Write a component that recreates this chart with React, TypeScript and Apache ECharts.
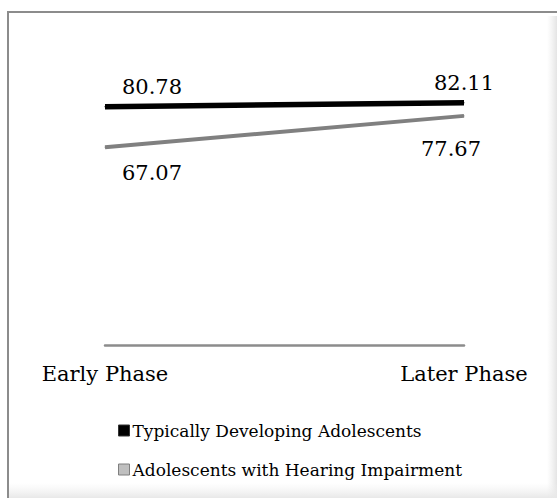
import React, { useEffect, useRef } from "react";
import * as echarts from "echarts";

const categories = ["Early Phase", "Later Phase"];
const seriesNames = ["Typically Developing Adolescents", "Adolescents with Hearing Impairment"];
const typicalValues = [80.78, 82.11];
const hearingValues = [67.07, 77.67];

const FONT = "DejaVu Serif";

export default function App() {
  const ref = useRef<HTMLDivElement>(null);
  useEffect(() => {
    if (!ref.current) return;
    const chart = echarts.init(ref.current, undefined, { renderer: "svg" });
    const lbl = (position: string, offset: number[]) => ({
      show: true,
      position,
      offset,
      distance: 5,
      fontSize: 21,
      fontFamily: FONT,
      color: "#000",
    });
    chart.setOption({
      animation: false,
      backgroundColor: "#fff",
      textStyle: { fontFamily: FONT },
      graphic: [
        {
          type: "rect",
          z: -10,
          shape: { x: 547, y: 16, width: 10, height: 482 },
          style: {
            fill: new echarts.graphic.LinearGradient(0, 0, 1, 0, [
              { offset: 0, color: "rgba(235,235,235,0)" },
              { offset: 1, color: "rgba(228,228,228,1)" },
            ]),
          },
        },
        {
          type: "rect",
          z: -10,
          shape: { x: 9, y: 483, width: 548, height: 15 },
          style: {
            fill: new echarts.graphic.LinearGradient(0, 0, 0, 1, [
              { offset: 0, color: "rgba(240,240,240,0)" },
              { offset: 1, color: "rgba(232,232,232,1)" },
            ]),
          },
        },
        {
          type: "line",
          shape: { x1: 7, y1: 12, x2: 557, y2: 12 },
          style: { stroke: "#8c8c8c", lineWidth: 2 },
        },
        {
          type: "line",
          shape: { x1: 8, y1: 11, x2: 8, y2: 498 },
          style: { stroke: "#8c8c8c", lineWidth: 2 },
        },
      ],
      grid: { left: 105, right: 93, top: 50, bottom: 153 },
      xAxis: {
        type: "category",
        data: categories,
        boundaryGap: false,
        axisLine: { lineStyle: { color: "#8c8c8c", width: 2.5 } },
        axisTick: { show: false },
        axisLabel: { fontSize: 21, fontFamily: FONT, color: "#000", margin: 18 },
        splitLine: { show: false },
      },
      yAxis: {
        type: "value",
        min: 0,
        max: 100,
        show: false,
        splitLine: { show: false },
      },
      legend: {
        orient: "vertical",
        left: 113,
        top: 417,
        itemWidth: 11,
        itemHeight: 11,
        itemGap: 22,
        icon: "rect",
        textStyle: { fontSize: 17, fontFamily: FONT, color: "#000", padding: [0, 0, 0, -2] },
        data: [
          { name: seriesNames[0], itemStyle: { color: "#000", borderColor: "#333", borderWidth: 1 } },
          { name: seriesNames[1], itemStyle: { color: "#bfbfbf", borderColor: "#7f7f7f", borderWidth: 1 } },
        ],
      },
      series: [
        {
          name: seriesNames[0],
          type: "line",
          symbol: "circle",
          symbolSize: 1,
          itemStyle: { color: "#000" },
          lineStyle: { color: "#000", width: 5.5 },
          data: [
            { value: typicalValues[0], label: lbl("top", [47, -4]) },
            { value: typicalValues[1], label: lbl("top", [0, -4]) },
          ],
        },
        {
          name: seriesNames[1],
          type: "line",
          symbol: "circle",
          symbolSize: 1,
          itemStyle: { color: "#808080" },
          lineStyle: { color: "#808080", width: 4 },
          data: [
            { value: hearingValues[0], label: lbl("bottom", [47, 10]) },
            { value: hearingValues[1], label: lbl("bottom", [-13, 17]) },
          ],
        },
      ],
    });
    return () => chart.dispose();
  }, []);
  return (
    <div
      ref={ref}
      style={{ position: "fixed", left: 0, top: 0, width: 557, height: 498 }}
    />
  );
}
